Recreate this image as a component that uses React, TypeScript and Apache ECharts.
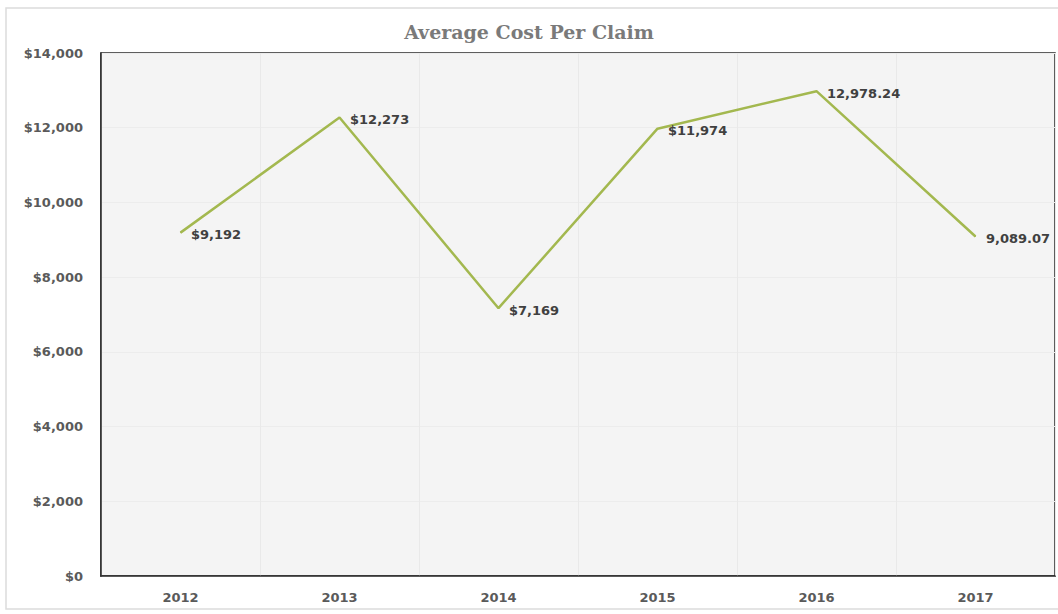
import React, { useEffect, useRef } from "react";
import * as echarts from "echarts";

const years = ["2012", "2013", "2014", "2015", "2016", "2017"];
const avgCost = [9192, 12273, 7169, 11974, 12978.24, 9089.07];
const pointLabels = ["$9,192", "$12,273", "$7,169", "$11,974", "12,978.24", "9,089.07"];
const yTicks = [0, 2000, 4000, 6000, 8000, 10000, 12000, 14000];

export default function App() {
  const ref = useRef<HTMLDivElement>(null);
  useEffect(() => {
    document.body.style.margin = "0";
    const chart = echarts.init(ref.current!, null, { renderer: "svg" });
    chart.setOption({
      animation: false,
      backgroundColor: "#ffffff",
      title: {
        text: "Average Cost Per Claim",
        left: "center",
        top: 17,
        textStyle: { fontFamily: "DejaVu Serif", fontWeight: "bold", fontSize: 19, color: "#7a7a7a" },
      },
      graphic: [
        {
          type: "rect",
          shape: { x: 6, y: 8, width: 1060, height: 601 },
          style: { fill: "none", stroke: "#dcdcdc", lineWidth: 1.5 },
          silent: true,
        },
      ],
      grid: {
        left: 101,
        top: 53,
        right: 3,
        bottom: 38,
        show: true,
        backgroundColor: "#f4f4f4",
        borderColor: "#2a2a2a",
        borderWidth: 1.5,
      },
      xAxis: {
        type: "category",
        data: years,
        boundaryGap: true,
        axisLine: { show: true, lineStyle: { color: "#2a2a2a", width: 1.5 } },
        axisTick: { show: false },
        axisLabel: { margin: 15, fontFamily: "DejaVu Sans", fontWeight: "bold", fontSize: 13, color: "#5a5a5a" },
        splitLine: { show: true, interval: 0, lineStyle: { color: "#e9e9e9", width: 1 } },
      },
      yAxis: {
        type: "value",
        min: 0,
        max: 14000,
        interval: 2000,
        axisLine: { show: true, lineStyle: { color: "#2a2a2a", width: 1.5 } },
        axisTick: { show: false },
        axisLabel: {
          margin: 18,
          fontFamily: "DejaVu Sans",
          fontWeight: "bold",
          fontSize: 13,
          color: "#5a5a5a",
          formatter: (v: number) => (yTicks.includes(v) ? "$" + v.toLocaleString("en-US") : ""),
        },
        splitLine: { show: true, lineStyle: { color: "#ececec", width: 1 } },
      },
      series: [
        {
          type: "line",
          data: avgCost,
          symbol: "circle",
          symbolSize: 1,
          showSymbol: true,
          lineStyle: { color: "#a3b84f", width: 2.5 },
          itemStyle: { color: "#a3b84f" },
          label: {
            show: true,
            position: "right",
            distance: 10,
            offset: [0, 2],
            fontFamily: "DejaVu Sans",
            fontWeight: "bold",
            fontSize: 13,
            color: "#404040",
            formatter: (p: any) => pointLabels[p.dataIndex],
          },
        },
      ],
    });
    return () => chart.dispose();
  }, []);
  return <div ref={ref} style={{ position: "absolute", left: 0, top: 0, width: 1058, height: 614 }} />;
}
